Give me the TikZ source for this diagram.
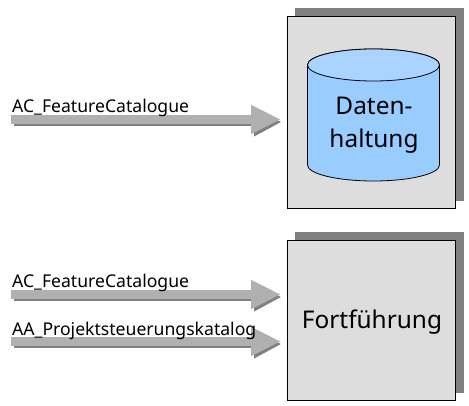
\documentclass[tikz,border=0pt]{standalone}
\usepackage{fontspec}
\setmainfont{Noto Sans}
\usetikzlibrary{arrows.meta,calc}
\definecolor{boxgrey}{HTML}{DDDDDD}
\definecolor{shadowgrey}{HTML}{808080}
\definecolor{arrowgrey}{HTML}{B0B0B0}
\definecolor{cylside}{HTML}{99CCFF}
\definecolor{cyltop}{HTML}{AAD4FF}
\tikzset{
  panel/.style={draw=black,line width=0.8pt,fill=boxgrey},
  panelshadow/.style={fill=shadowgrey},
  fatarrow/.style={line width=9pt,draw=arrowgrey,-{Triangle[length=30pt,width=27pt,color=arrowgrey]}},
  fatshadow/.style={line width=9pt,draw=shadowgrey,-{Triangle[length=27.5pt,width=27pt,color=shadowgrey]}},
  lbl/.style={anchor=base west,inner sep=0pt,font=\fontsize{17.6}{20}\selectfont},
  big/.style={inner sep=0pt,align=center,font=\fontsize{24.4}{33}\selectfont}
}
\begin{document}
\begin{tikzpicture}[x=1pt,y=-1pt]
\useasboundingbox (0,0) rectangle (469,406);
% upper panel
\fill[panelshadow] (295,8) rectangle (464,201);
\draw[panel] (287.5,16.5) rectangle (455,208);
% cylinder
\draw[line width=0.8pt,fill=cylside] (307.5,65) -- (307.5,165) arc[start angle=180,end angle=0,x radius=66,y radius=16] -- (439.5,65) arc[start angle=0,end angle=-180,x radius=66,y radius=16] -- cycle;
\draw[line width=0.8pt,fill=cyltop] (373.5,65) ellipse[x radius=66,y radius=16];
\node[big] (store) at (374,125) {Daten-\\haltung};
% lower panel
\fill[panelshadow] (295,232) rectangle (464,393);
\draw[panel] (287.5,240) rectangle (455,400);
\node[big,anchor=base] (update) at (372,329) {Fortführung};
% arrows
\coordinate (s1) at (11,119.5); \coordinate (e1) at (281,119.5);
\coordinate (s2) at (11,294.5); \coordinate (e2) at (281,294.5);
\coordinate (s3) at (11,341.5); \coordinate (e3) at (281,341.5);
\foreach \a/\b in {s1/e1,s2/e2,s3/e3}{
  \draw[fatshadow] ($(\a)+(3,2.5)$) -- ($(\b)+(0.5,2.5)$);
  \draw[fatarrow] (\a) -- (\b);
}
\node[lbl] (l1) at (12,113) {AC\_FeatureCatalogue};
\node[lbl] (l2) at (12,288) {AC\_FeatureCatalogue};
\node[lbl] (l3) at (12,336) {AA\_Projektsteuerungskatalog};
\end{tikzpicture}
\end{document}
